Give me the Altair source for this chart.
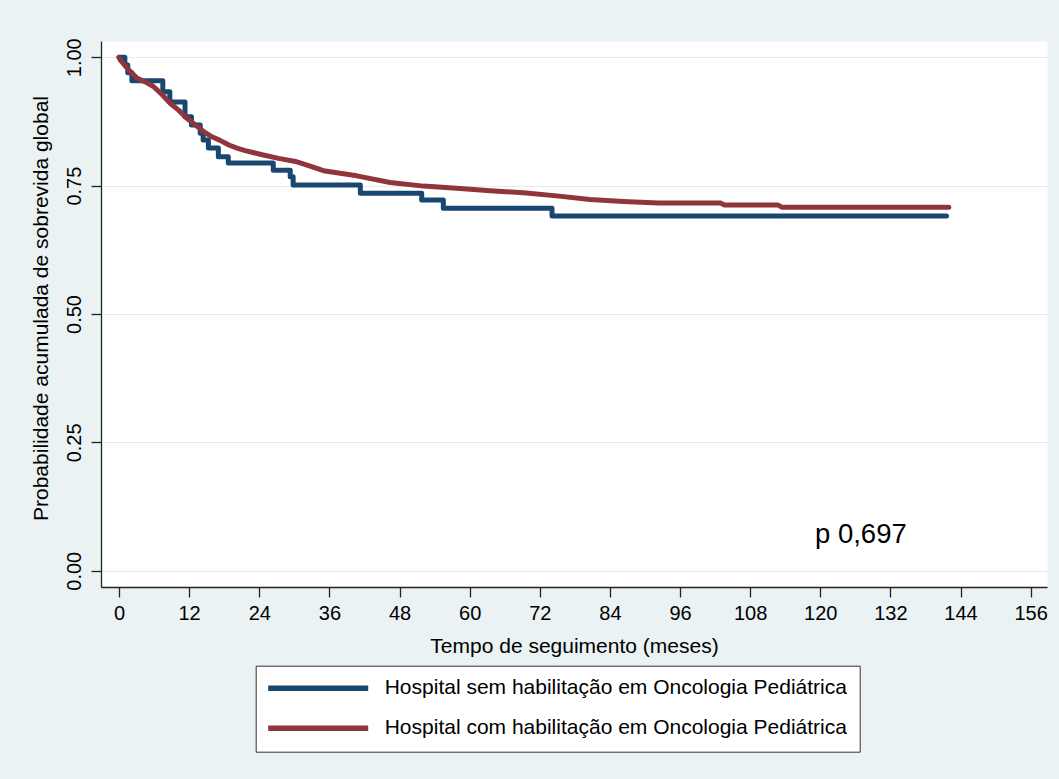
import altair as alt
import pandas as pd

# ---- data ----
SERIES = [
    "Hospital sem habilitação em Oncologia Pediátrica",
    "Hospital com habilitação em Oncologia Pediátrica",
]
COLORS = ["#1a476f", "#90353b"]

# Kaplan-Meier curve, hospitals without habilitation (step curve)
sem_months = [0, 1.0, 1.5, 2.2, 7.5, 8.7, 11.3, 12.4, 13.9, 14.4, 15.3, 17.0,
              18.7, 26.4, 29.3, 29.8, 41.3, 51.8, 55.5, 74.1, 141.6]
sem_surv = [1.0, 0.985, 0.970, 0.954, 0.933, 0.913, 0.884, 0.868, 0.852, 0.839,
            0.823, 0.806, 0.794, 0.780, 0.767, 0.751, 0.735, 0.722, 0.706, 0.691,
            0.691]

# Kaplan-Meier curve, hospitals with habilitation (many small events)
com_months = [0, 0.2, 1.7, 3.1, 4.5, 5.9, 7.4, 8.8, 10.2, 11.6, 13.1, 14.5, 15.9,
              17.3, 18.8, 20.2, 21.6, 23.1, 24.5, 27.3, 30.2, 32.7, 35.0, 40.7,
              46.4, 52.1, 57.8, 63.5, 69.2, 74.9, 80.6, 86.3, 92.3, 103.0, 103.6,
              112.8, 113.4, 142.0]
com_surv = [1.0, 0.995, 0.975, 0.959, 0.952, 0.943, 0.927, 0.910, 0.897, 0.881,
            0.868, 0.855, 0.845, 0.838, 0.829, 0.823, 0.818, 0.814, 0.810, 0.803,
            0.797, 0.788, 0.779, 0.769, 0.756, 0.749, 0.745, 0.740, 0.736, 0.730,
            0.723, 0.719, 0.716, 0.716, 0.712, 0.712, 0.708, 0.708]

x_ticks = list(range(0, 157, 12))
y_ticks = [0.0, 0.25, 0.50, 0.75, 1.0]
p_label = "p 0,697"
p_month = [119.1]
p_surv = [0.0545]

X_TITLE = "Tempo de seguimento (meses)"
Y_TITLE = "Probabilidade acumulada de sobrevida global"
FONT = "Liberation Sans"

# ---- tables ----
df_sem = pd.DataFrame({"month": sem_months, "surv": sem_surv, "series": SERIES[0]})
df_com = pd.DataFrame({"month": com_months, "surv": com_surv, "series": SERIES[1]})
df_p = pd.DataFrame({"month": p_month, "surv": p_surv, "label": [p_label]})

x_enc = alt.X(
    "month:Q",
    scale=alt.Scale(domain=[-3.08, 158.8], nice=False, zero=False),
    axis=alt.Axis(
        values=x_ticks, title=X_TITLE, grid=False, tickSize=10, labelPadding=6,
        labelFlush=False, labelOverlap=False,
        titleX=473, titleY=65, titleAlign="center", titleBaseline="alphabetic",
    ),
)
y_enc = alt.Y(
    "surv:Q",
    scale=alt.Scale(domain=[-0.0317, 1.0316], nice=False, zero=False),
    axis=alt.Axis(
        values=y_ticks, format=".2f", title=Y_TITLE, grid=True,
        gridColor="#e3ebed", gridWidth=1, tickSize=10, labelPadding=7,
        labelAngle=270, labelAlign="center", labelBaseline="bottom",
        labelFlush=False, labelOverlap=False,
        titleAngle=270, titleX=-54, titleY=267, titleAlign="center",
        titleBaseline="alphabetic",
    ),
)
color_enc = alt.Color(
    "series:N",
    scale=alt.Scale(domain=SERIES, range=COLORS),
    legend=alt.Legend(
        title=None, orient="none", legendX=154.7, legendY=624.7,
        direction="vertical", symbolType="M-7.143,0H7.143", symbolSize=196,
        symbolStrokeWidth=5.5, symbolOffset=40, labelOffset=56,
        labelFontSize=21, labelFont=FONT, labelColor="black", labelLimit=700,
        fillColor="white", strokeColor="#333333", padding=12, rowPadding=17,
    ),
)

sem_line = alt.Chart(df_sem).mark_line(
    interpolate="step-after", strokeWidth=5, strokeCap="round", strokeJoin="round"
).encode(x=x_enc, y=y_enc, color=color_enc)

com_line = alt.Chart(df_com).mark_line(
    interpolate="linear", strokeWidth=5, strokeCap="round", strokeJoin="round"
).encode(x=x_enc, y=y_enc, color=color_enc)

p_text = alt.Chart(df_p).mark_text(
    align="left", baseline="alphabetic", fontSize=27.5, font=FONT, color="black"
).encode(x=x_enc, y=y_enc, text="label:N")

chart = (
    alt.layer(sem_line, com_line, p_text)
    .properties(
        width=946, height=546,
        autosize=alt.AutoSizeParams(type="none"),
        padding={"left": 101, "top": 41, "right": 12, "bottom": 192},
        background="#eaf2f3",
    )
    .configure_view(fill="white", stroke="transparent")
    .configure_axis(
        labelFont=FONT, titleFont=FONT, labelFontSize=20, titleFontSize=21,
        titleFontWeight="normal", labelColor="black", titleColor="black",
        tickColor="#222222", domainColor="#222222", tickWidth=1.3, domainWidth=1.3,
    )
)

chart.save("out.html", embed_options={"renderer": "svg", "actions": False})
